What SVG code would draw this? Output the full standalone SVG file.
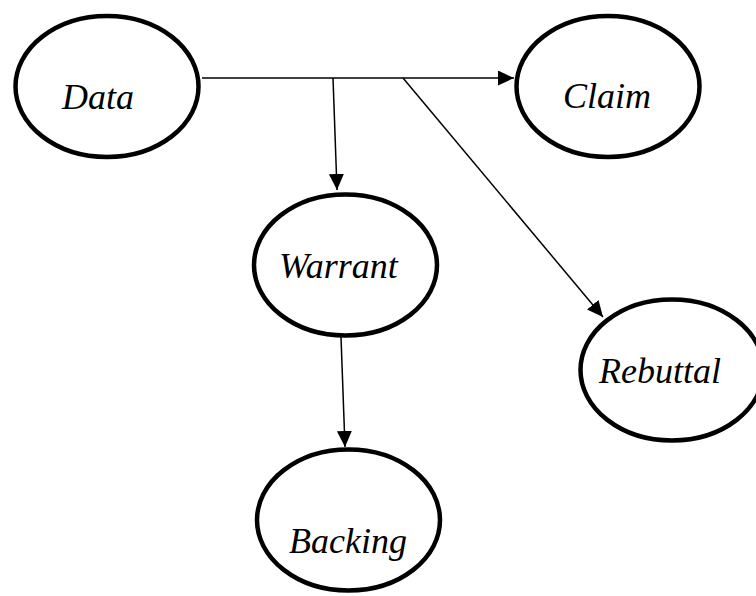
<svg xmlns="http://www.w3.org/2000/svg" width="756" height="596" viewBox="0 0 756 596">
  <defs>
    <style>
      .node ellipse { fill: #ffffff; stroke: #000000; stroke-width: 4.5; }
      .node text { font-family: "Liberation Serif", "Times New Roman", serif; font-style: italic; font-size: 36px; fill: #000000; }
      .edge { fill: none; stroke: #000000; stroke-width: 1.5; }
    </style>
    <marker id="arrow" markerUnits="userSpaceOnUse" markerWidth="17" markerHeight="16" refX="16" refY="7.5" orient="auto">
      <path d="M0,0 L16,7.5 L0,15 z" fill="#000000"/>
    </marker>
  </defs>
  <rect width="756" height="596" fill="#ffffff"/>

  <!-- connectors -->
  <g id="connectors">
    <line class="edge" x1="202" y1="78" x2="514" y2="78" marker-end="url(#arrow)"/>
    <line class="edge" x1="333" y1="78" x2="337" y2="190" marker-end="url(#arrow)"/>
    <line class="edge" x1="403" y1="78" x2="603" y2="317" marker-end="url(#arrow)"/>
    <line class="edge" x1="341" y1="337" x2="345" y2="447" marker-end="url(#arrow)"/>
  </g>

  <!-- nodes -->
  <g id="data" class="node">
    <ellipse cx="107" cy="86.5" rx="91.5" ry="70.5"/>
    <text x="62" y="109">Data</text>
  </g>
  <g id="claim" class="node">
    <ellipse cx="608" cy="86.5" rx="91.5" ry="70.5"/>
    <text x="563" y="108">Claim</text>
  </g>
  <g id="warrant" class="node">
    <ellipse cx="345.5" cy="265" rx="91.5" ry="70.5"/>
    <text x="279" y="278">Warrant</text>
  </g>
  <g id="rebuttal" class="node">
    <ellipse cx="672" cy="370" rx="91.5" ry="70.5"/>
    <text x="599" y="383">Rebuttal</text>
  </g>
  <g id="backing" class="node">
    <ellipse cx="348.5" cy="520" rx="91.5" ry="70.5"/>
    <text x="289" y="553">Backing</text>
  </g>
</svg>
